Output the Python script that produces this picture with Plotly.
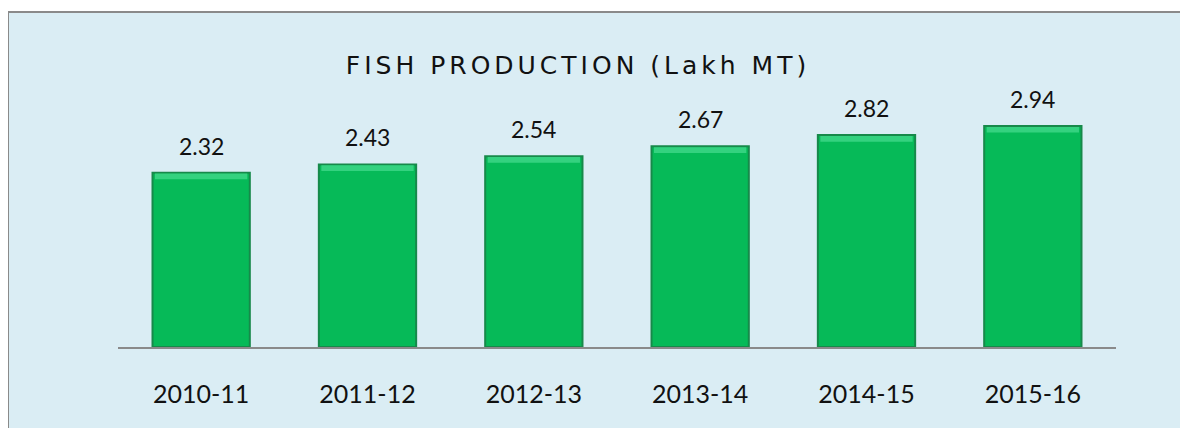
import plotly.graph_objects as go

categories = ["2010-11", "2011-12", "2012-13", "2013-14", "2014-15", "2015-16"]
production = [2.32, 2.43, 2.54, 2.67, 2.82, 2.94]
value_labels = ["2.32", "2.43", "2.54", "2.67", "2.82", "2.94"]
title_text = "FISH PRODUCTION (Lakh MT)"

# page body has an 8px margin, so the figure is drawn 8px smaller
W, H = 1180, 420
L, R, T, B = 110, 72, 76, 81
pw = W - L - R
ph = H - T - B

bar_w = 0.585
hl = 0.075  # height of the bevel highlight strip, in axis units

fig = go.Figure()
fig.add_trace(go.Bar(
    x=categories, y=production, width=bar_w,
    marker=dict(color="#06BA58", line=dict(color="#17894A", width=2)),
    hoverinfo="x+y",
))
fig.add_trace(go.Bar(
    x=categories, y=[hl] * len(production),
    base=[v - hl - 0.012 for v in production], width=bar_w - 0.03,
    marker=dict(color="#34D27F", line=dict(width=0)),
    hoverinfo="skip",
))

for c, v, t in zip(categories, production, value_labels):
    fig.add_annotation(x=c, y=v, text=t, showarrow=False, yanchor="bottom",
                       yshift=11, font=dict(family="Lato", size=23, color="#111111"))

# chart frame
fig.add_shape(type="rect", xref="paper", yref="paper", layer="below",
              x0=(0 - L) / pw, x1=(W + 20 - L) / pw,
              y0=(-(B + 20)) / ph, y1=(H - B - 4) / ph,
              fillcolor="#DAEDF4", line=dict(color="#8A8A8A", width=2))

fig.update_layout(
    width=W, height=H,
    margin=dict(l=L, r=R, t=T, b=B, autoexpand=False),
    paper_bgcolor="white", plot_bgcolor="rgba(0,0,0,0)",
    barmode="overlay",
    showlegend=False,
    title=dict(text=title_text, xref="container", yref="container",
               x=570 / W, xanchor="center", y=1 - 57 / H, yanchor="middle",
               font=dict(family="DejaVu Sans", size=25, color="#111111")),
    xaxis=dict(type="category", showline=True, linecolor="#8A8A8A", linewidth=2,
               ticks="", showgrid=False, ticklabelstandoff=24,
               tickfont=dict(family="Lato", size=25, color="#111111")),
    yaxis=dict(visible=False, range=[0, 3.5], showgrid=False, zeroline=False),
)

post = """
var t = document.querySelector('.gtitle');
if (t) { t.style.letterSpacing = '4px'; }
"""

fig.write_html("out.html", post_script=post)
